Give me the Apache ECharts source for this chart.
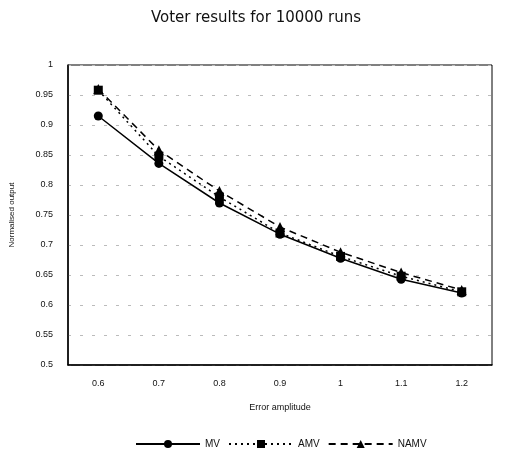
<!DOCTYPE html>
<html>
<head>
<meta charset="utf-8">
<script src="https://cdn.jsdelivr.net/npm/echarts@6/dist/echarts.min.js"></script>
<style>
  html, body { margin: 0; padding: 0; background: #fff; }
  #chart { width: 510px; height: 460px; }
</style>
</head>
<body>
<div id="chart"></div>
<script>
// error amplitude categories
var amplitudes = ['0.6', '0.7', '0.8', '0.9', '1', '1.1', '1.2'];
var mv   = [0.915, 0.836, 0.770, 0.718, 0.678, 0.643, 0.620];
var amv  = [0.958, 0.848, 0.780, 0.720, 0.681, 0.648, 0.622];
var namv = [0.960, 0.858, 0.790, 0.730, 0.688, 0.654, 0.625];
var yTicks = { min: 0.5, max: 1, step: 0.05 };

(function() {
    var myChart = echarts.init(document.getElementById('chart'));
    var font = 'Liberation Sans, Arial, sans-serif';

    function line(name, data, type, symbol, size) {
        return {
            name: name,
            type: 'line',
            data: data,
            symbol: symbol,
            symbolSize: size,
            animation: false,
            lineStyle: { color: '#000', width: 1.5, type: type },
            itemStyle: { color: '#000' }
        };
    }

    var option = {
        backgroundColor: '#fff',
        title: {
            text: 'Voter results for 10000 runs',
            left: 251,
            top: 6,
            textAlign: 'center',
            textStyle: { fontFamily: 'DejaVu Sans, sans-serif', fontSize: 15, fontWeight: 'normal', color: '#111' }
        },
        legend: {
            bottom: 6,
            left: 130,
            itemWidth: 64,
            itemHeight: 10,
            itemGap: 8,
            textStyle: { fontFamily: font, fontSize: 10, color: '#111' },
            data: ['MV', 'AMV', 'NAMV']
        },
        grid: { left: 68, right: 18, top: 65, bottom: 95, show: true, borderColor: '#000', borderWidth: 1 },
        xAxis: {
            type: 'category',
            data: amplitudes,
            boundaryGap: true,
            name: 'Error amplitude',
            nameLocation: 'middle',
            nameGap: 38,
            nameTextStyle: { fontFamily: font, fontSize: 9, color: '#111' },
            axisLine: { lineStyle: { color: '#000', width: 1.5 } },
            axisTick: { show: false },
            axisLabel: { fontFamily: font, fontSize: 9, color: '#111', margin: 14 }
        },
        yAxis: {
            type: 'value',
            min: yTicks.min,
            max: yTicks.max,
            interval: yTicks.step,
            name: 'Normalised output',
            nameLocation: 'middle',
            nameGap: 52,
            nameTextStyle: { fontFamily: font, fontSize: 8, color: '#111' },
            axisLine: { show: true, lineStyle: { color: '#000', width: 1.5 } },
            axisTick: { show: false },
            axisLabel: { fontFamily: font, fontSize: 9, color: '#111', margin: 15 },
            splitLine: { lineStyle: { color: '#bbb', type: [3, 9], width: 1 } }
        },
        series: [
            line('MV', mv, 'solid', 'circle', 9),
            line('AMV', amv, [2, 4], 'rect', 9),
            line('NAMV', namv, [7, 5], 'triangle', 10)
        ]
    };

    myChart.setOption(option);

    window.addEventListener('resize', function() {
        myChart.resize();
    })
})()
</script>
</body>
</html>
